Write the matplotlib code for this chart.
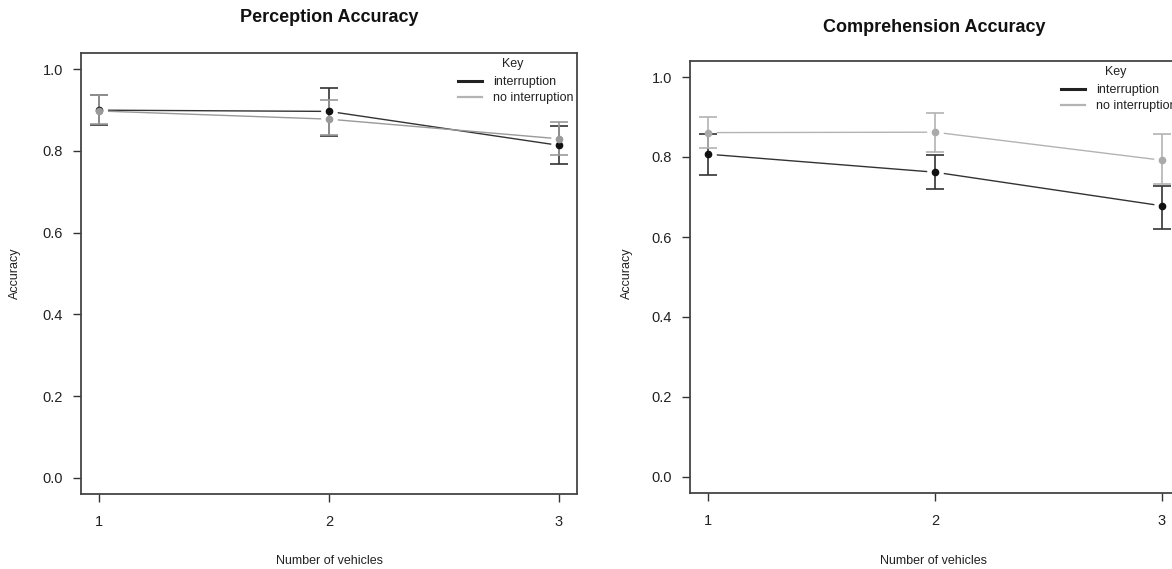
import matplotlib
matplotlib.use("Agg")
import matplotlib.pyplot as plt
from matplotlib.lines import Line2D

plt.rcParams['font.family'] = ['Liberation Sans', 'DejaVu Sans']

vehicles = [1, 2, 3]

# Perception accuracy
perc_int = [0.900, 0.897, 0.814]
perc_int_lo = [0.864, 0.836, 0.768]
perc_int_hi = [0.938, 0.955, 0.861]
perc_no = [0.898, 0.878, 0.830]
perc_no_lo = [0.865, 0.838, 0.790]
perc_no_hi = [0.937, 0.926, 0.870]

# Comprehension accuracy
comp_int = [0.807, 0.762, 0.678]
comp_int_lo = [0.755, 0.719, 0.621]
comp_int_hi = [0.858, 0.804, 0.728]
comp_no = [0.861, 0.862, 0.792]
comp_no_lo = [0.822, 0.813, 0.733]
comp_no_hi = [0.899, 0.909, 0.857]

titles = ["Perception Accuracy", "Comprehension Accuracy"]
yticks = [0.0, 0.2, 0.4, 0.6, 0.8, 1.0]
labels = ["interruption", "no interruption"]

dark = "#222222"
light = "#b3b3b3"

W, H = 1172, 569
fig = plt.figure(figsize=(W / 100, H / 100), dpi=100)


def px_axes(x0, x1, ytop, ybot):
    return fig.add_axes([x0 / W, 1 - ybot / H, (x1 - x0) / W, (ybot - ytop) / H])


ax1 = px_axes(81, 577, 53, 494)
ax2 = px_axes(690, 1180, 61, 493)


def draw(ax, series):
    # lines first, then white gaps round the points (R type="b"), then bars and dots
    for y, lo, hi, c, dc in series:
        ax.plot(vehicles, y, color=c, lw=1.0, zorder=1)
    for y, lo, hi, c, dc in series:
        ax.plot(vehicles, y, "o", ms=12, mfc="white", mec="none", zorder=2)
    for y, lo, hi, c, dc in series:
        err = [[a - b for a, b in zip(y, lo)], [b - a for a, b in zip(y, hi)]]
        ax.errorbar(vehicles, y, yerr=err, fmt="none", ecolor=c, elinewidth=1.2,
                    capsize=6.5, capthick=1.2, zorder=3)
    for y, lo, hi, c, dc in series:
        ax.plot(vehicles, y, "o", ms=4.5, color=dc, mec=dc, zorder=4)

    ax.set_xlim(0.92, 3.08)
    ax.set_ylim(-0.04, 1.04)
    ax.set_xticks(vehicles)
    ax.set_xticklabels([str(v) for v in vehicles])
    ax.set_yticks(yticks)
    ax.set_yticklabels(["%.1f" % t for t in yticks])
    ax.tick_params(axis="both", direction="out", length=6, width=1, color="#333333",
                   labelsize=10.5, labelcolor="#222222")
    ax.tick_params(axis="x", pad=9)
    ax.tick_params(axis="y", pad=7)
    for s in ax.spines.values():
        s.set_color("#444444")
        s.set_linewidth(1.3)

    handles = [Line2D([], [], color=dark, lw=2.2), Line2D([], [], color=light, lw=1.6)]
    return handles


h = draw(ax1, [(perc_int, perc_int_lo, perc_int_hi, "#333333", "#111111"),
               (perc_no, perc_no_lo, perc_no_hi, "#999999", "#999999")])
draw(ax2, [(comp_int, comp_int_lo, comp_int_hi, "#333333", "#111111"),
           (comp_no, comp_no_lo, comp_no_hi, light, "#aaaaaa")])

for ax, (lx, ly), (kx, ky) in [(ax1, (458, 76), (513, 64)), (ax2, (1061, 84), (1116, 72))]:
    leg = ax.legend(h, labels, loc="upper left",
                    bbox_to_anchor=(lx / W, 1 - ly / H), bbox_transform=fig.transFigure,
                    frameon=False, fontsize=9, handlelength=1.9,
                    handletextpad=0.9, labelspacing=0.35, borderpad=0, borderaxespad=0)
    for t in leg.get_texts():
        t.set_color("#222222")
    fig.text(kx / W, 1 - ky / H, "Key", ha="center", va="center", fontsize=9,
             color="#222222")

fig.text(329 / W, 1 - 17 / H, titles[0], ha="center", va="center", fontsize=13,
         fontweight="bold", color="#111111")
fig.text(934 / W, 1 - 27 / H, titles[1], ha="center", va="center", fontsize=13,
         fontweight="bold", color="#111111")

for x in [329, 934]:
    fig.text(x / W, 1 - 561 / H, "Number of vehicles", ha="center", va="center",
             fontsize=9, color="#222222")
for x in [15, 627]:
    fig.text(x / W, 1 - 273 / H, "Accuracy", ha="center", va="center", rotation=90,
             fontsize=9, color="#222222")

fig.savefig("out.png", dpi=100)
